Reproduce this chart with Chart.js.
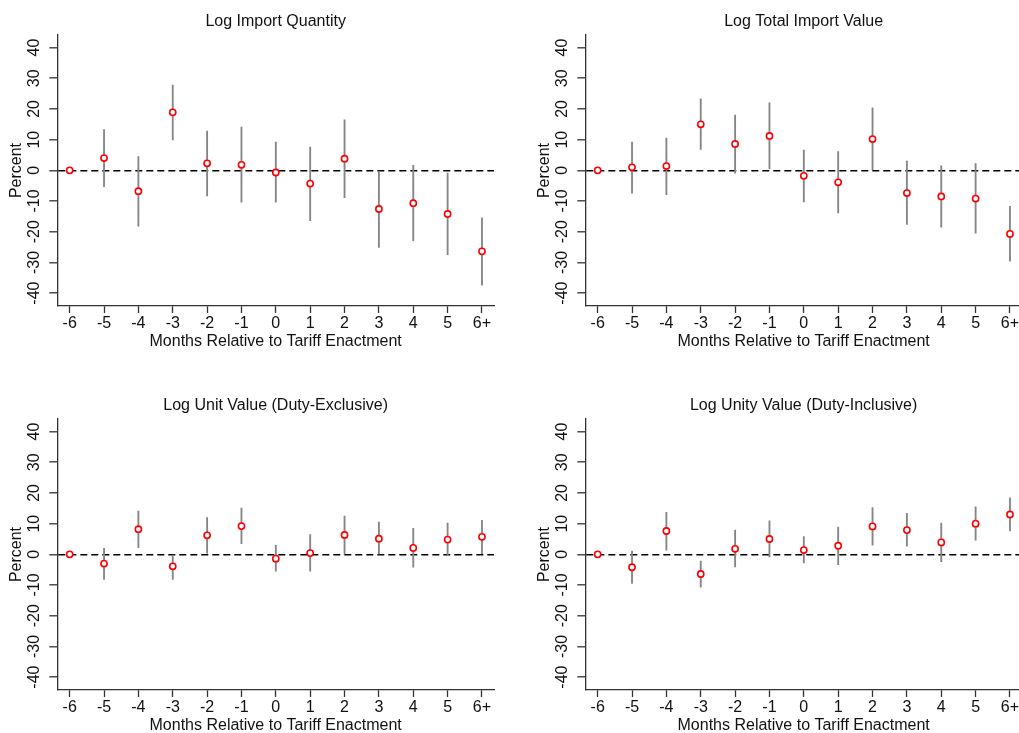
<!DOCTYPE html>
<html>
<head>
<meta charset="utf-8">
<script src="https://cdn.jsdelivr.net/npm/chart.js@4.4.1/dist/chart.umd.min.js"></script>
<style>
  html, body { margin: 0; padding: 0; background: #fff; }
  body { position: relative; width: 1019px; height: 733px; overflow: hidden; }
  .panel { position: absolute; width: 552px; height: 384px; }
</style>
</head>
<body>
<div class="panel" style="left:0;top:0"><canvas id="qty" width="552" height="384"></canvas></div>
<div class="panel" style="left:528px;top:0"><canvas id="val" width="552" height="384"></canvas></div>
<div class="panel" style="left:0;top:384px"><canvas id="uvEx" width="552" height="384"></canvas></div>
<div class="panel" style="left:528px;top:384px"><canvas id="uvIn" width="552" height="384"></canvas></div>

<script>
// months relative to tariff enactment
const months = [-6, -5, -4, -3, -2, -1, 0, 1, 2, 3, 4, 5, 6];
const monthLabels = ['-6', '-5', '-4', '-3', '-2', '-1', '0', '1', '2', '3', '4', '5', '6+'];
const yTicks = [-40, -30, -20, -10, 0, 10, 20, 30, 40];

// Log Import Quantity
const qtyEst = [0, 4.0, -6.8, 18.9, 2.3, 1.8, -0.7, -4.3, 3.8, -12.6, -10.7, -14.2, -26.4];
const qtyLo  = [null, -5.3, -18.2, 9.9, -8.3, -10.4, -10.4, -16.4, -8.9, -25.1, -22.9, -27.5, -37.4];
const qtyHi  = [null, 13.3, 4.5, 27.8, 12.8, 14.1, 9.2, 7.6, 16.5, -0.2, 1.6, -0.9, -15.5];

// Log Total Import Value
const valEst = [0, 1.0, 1.4, 15.0, 8.6, 11.2, -1.8, -3.9, 10.2, -7.4, -8.5, -9.2, -20.7];
const valLo  = [null, -7.4, -7.9, 6.8, -0.9, 0.5, -10.3, -13.9, 0.0, -17.6, -18.5, -20.5, -29.6];
const valHi  = [null, 9.2, 10.5, 23.3, 18.0, 22.0, 6.6, 6.1, 20.4, 3.0, 1.5, 2.2, -11.7];

// Log Unit Value (Duty-Exclusive)
const uvExEst = [0, -3.0, 8.2, -3.9, 6.2, 9.2, -1.4, 0.4, 6.3, 5.1, 2.1, 4.8, 5.7];
const uvExLo  = [null, -8.2, 2.2, 0.0, 0.4, 3.5, -5.5, -5.5, 0.1, 0.1, -4.2, -0.3, 0.2];
const uvExHi  = [null, 2.0, 14.1, -8.2, 12.0, 15.1, 2.9, 6.4, 12.5, 10.5, 8.5, 10.2, 11.1];

// Log Unity Value (Duty-Inclusive)
const uvInEst = [0, -4.2, 7.6, -6.4, 1.8, 5.0, 1.4, 2.8, 9.1, 7.9, 3.9, 10.0, 13.0];
const uvInLo  = [null, -9.5, 1.4, -10.7, -4.1, -0.8, -2.8, -3.4, 3.0, 2.7, -2.4, 4.6, 7.6];
const uvInHi  = [null, 1.1, 13.7, -2.2, 7.9, 10.9, 5.8, 8.9, 15.2, 13.4, 10.2, 15.5, 18.4];

const FONT = { family: '"Liberation Sans", Arial, sans-serif', size: 16 };
const TEXT = '#111';
const AXIS = '#333';

function makePanel(id, title, est, lo, hi) {
  const points = months.map((m, i) => ({ x: m, y: est[i] }));
  const bars = [];
  months.forEach((m, i) => {
    if (lo[i] !== null) bars.push({ x: m, y: [lo[i], hi[i]] });
  });

  new Chart(document.getElementById(id), {
    type: 'scatter',
    data: {
      datasets: [
        {
          type: 'scatter',
          data: points,
          pointRadius: 3.1,
          pointHoverRadius: 3.1,
          pointBorderWidth: 1.6,
          pointBorderColor: '#ff0000',
          pointBackgroundColor: '#ffffff',
          order: 0
        },
        {
          type: 'bar',
          data: bars,
          barThickness: 1.2,
          backgroundColor: '#858585',
          borderWidth: 0,
          order: 1
        }
      ]
    },
    options: {
      responsive: false,
      animation: false,
      events: [],
      layout: { padding: { left: 0, right: 58, top: 0, bottom: 28 } },
      plugins: {
        legend: { display: false },
        tooltip: { enabled: false },
        title: {
          display: true,
          text: title,
          fullSize: false,
          color: TEXT,
          font: { ...FONT, weight: 'normal' },
          padding: { top: 12.1, bottom: 3.7 }
        }
      },
      scales: {
        x: {
          type: 'linear',
          offset: false,
          min: -6.36,
          max: 6.35,
          afterBuildTicks: s => { s.ticks = months.map(v => ({ value: v })); },
          afterFit: s => { s.height = 50; },
          ticks: {
            color: TEXT,
            font: FONT,
            padding: 1.4,
            maxRotation: 0,
            autoSkip: false,
            callback: v => monthLabels[months.indexOf(v)]
          },
          grid: {
            offset: false,
            drawOnChartArea: false,
            drawTicks: true,
            tickLength: 7,
            tickColor: AXIS,
            tickWidth: 1.3
          },
          border: { color: AXIS, width: 1.3 },
          title: {
            display: true,
            text: 'Months Relative to Tariff Enactment',
            color: TEXT,
            font: FONT,
            padding: { top: 0, bottom: 4.7 }
          }
        },
        y: {
          min: -44.2,
          max: 44.1,
          afterBuildTicks: s => { s.ticks = yTicks.map(v => ({ value: v })); },
          afterFit: s => { s.width = 57.3; },
          ticks: {
            color: TEXT,
            font: FONT,
            minRotation: 90,
            maxRotation: 90,
            crossAlign: 'center',
            padding: 3
          },
          grid: {
            drawTicks: true,
            tickLength: 8,
            tickColor: AXIS,
            tickWidth: 1.3,
            color: c => (c.tick && c.tick.value === 0 ? '#000' : 'rgba(0,0,0,0)'),
            lineWidth: 1.6
          },
          border: { color: AXIS, width: 1.3, dash: [7, 4] },
          title: {
            display: true,
            text: 'Percent',
            color: TEXT,
            font: FONT,
            padding: { top: 7.2, bottom: 0 }
          }
        }
      }
    }
  });
}

makePanel('qty', 'Log Import Quantity', qtyEst, qtyLo, qtyHi);
makePanel('val', 'Log Total Import Value', valEst, valLo, valHi);
makePanel('uvEx', 'Log Unit Value (Duty-Exclusive)', uvExEst, uvExLo, uvExHi);
makePanel('uvIn', 'Log Unity Value (Duty-Inclusive)', uvInEst, uvInLo, uvInHi);
</script>
</body>
</html>
